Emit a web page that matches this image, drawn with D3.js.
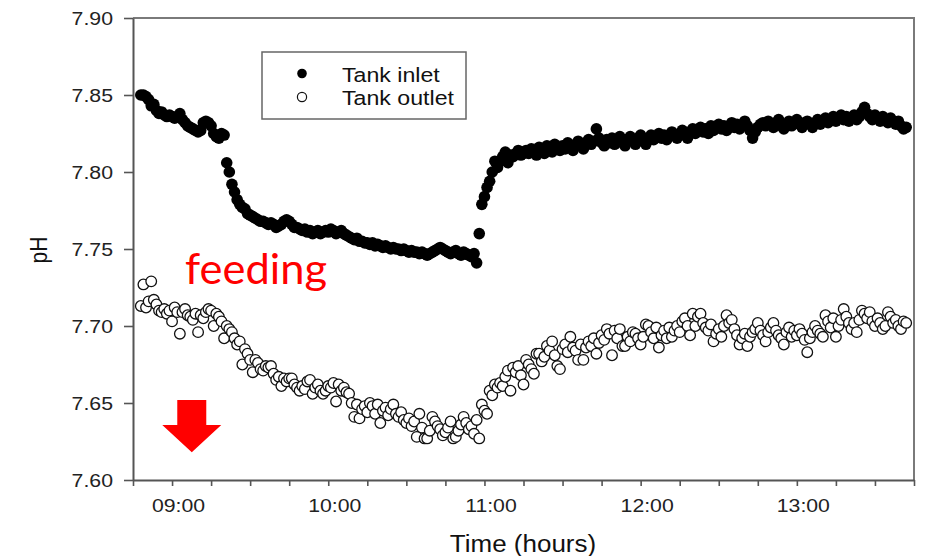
<!DOCTYPE html>
<html><head><meta charset="utf-8">
<script src="https://cdn.jsdelivr.net/npm/d3@7"></script>
<style>body{margin:0;background:#fff}svg{display:block}</style>
</head><body><svg id="c" width="928" height="556"></svg>
<script>
const startTime = "08:48";
const stepMinutes = 1;
const xDomain = ["08:45", "13:45"];
const yDomain = [7.60, 7.90];
const yTicks = [7.60, 7.65, 7.70, 7.75, 7.80, 7.85, 7.90];
const xTickLabels = ["09:00", "10:00", "11:00", "12:00", "13:00"];
const seriesNames = ["Tank inlet", "Tank outlet"];
const xTitle = "Time (hours)";
const yTitle = "pH";
const noteText = "feeding";
const notePos = ["09:05", 7.727];
const arrowPos = ["09:07", 7.652, 7.618];

const inlet = [
7.850,7.850,7.849,7.847,7.843,7.844,7.840,7.838,7.839,7.837,
7.836,7.837,7.836,7.835,7.836,7.838,7.834,7.832,7.830,7.829,
7.828,7.827,7.826,7.827,7.832,7.833,7.832,7.830,7.825,7.823,
7.822,7.825,7.824,7.806,7.800,7.792,7.787,7.782,7.779,7.777,
7.776,7.773,7.772,7.771,7.770,7.769,7.768,7.768,7.767,7.766,
7.767,7.766,7.764,7.765,7.766,7.768,7.769,7.768,7.766,7.764,
7.764,7.763,7.762,7.763,7.761,7.762,7.760,7.761,7.762,7.760,
7.761,7.762,7.761,7.763,7.762,7.760,7.761,7.762,7.760,7.759,
7.758,7.757,7.756,7.757,7.755,7.755,7.754,7.754,7.753,7.754,
7.752,7.753,7.752,7.751,7.752,7.751,7.750,7.751,7.750,7.750,
7.749,7.750,7.749,7.748,7.749,7.748,7.748,7.747,7.748,7.747,
7.746,7.747,7.748,7.749,7.750,7.751,7.750,7.749,7.748,7.747,
7.748,7.749,7.747,7.746,7.748,7.747,7.746,7.745,7.747,7.741,
7.760,7.779,7.784,7.790,7.794,7.800,7.807,7.803,7.807,7.810,
7.813,7.806,7.811,7.810,7.812,7.814,7.811,7.812,7.814,7.812,
7.815,7.813,7.811,7.816,7.814,7.812,7.817,7.815,7.813,7.818,
7.816,7.814,7.817,7.815,7.819,7.816,7.814,7.818,7.820,7.817,
7.815,7.819,7.821,7.818,7.820,7.828,7.822,7.819,7.817,7.821,
7.819,7.822,7.818,7.820,7.823,7.819,7.817,7.821,7.823,7.820,
7.818,7.822,7.824,7.820,7.818,7.822,7.824,7.821,7.823,7.825,
7.822,7.824,7.821,7.823,7.826,7.824,7.822,7.825,7.827,7.824,
7.822,7.826,7.828,7.825,7.827,7.829,7.826,7.828,7.825,7.830,
7.827,7.829,7.831,7.828,7.830,7.827,7.829,7.832,7.829,7.831,
7.828,7.830,7.833,7.830,7.827,7.822,7.826,7.829,7.831,7.832,
7.830,7.833,7.831,7.829,7.832,7.834,7.830,7.828,7.831,7.833,
7.830,7.832,7.834,7.831,7.829,7.832,7.833,7.831,7.829,7.832,
7.834,7.831,7.833,7.835,7.832,7.834,7.836,7.833,7.835,7.837,
7.834,7.836,7.833,7.835,7.837,7.834,7.836,7.839,7.842,7.838,
7.836,7.834,7.837,7.835,7.833,7.836,7.834,7.832,7.835,7.833,
7.831,7.833,7.830,7.828,7.829
];

const outlet = [
7.713,7.727,7.712,7.716,7.729,7.717,7.714,7.710,7.709,7.711,
7.708,7.710,7.703,7.712,7.709,7.695,7.709,7.711,7.707,7.706,
7.704,7.708,7.696,7.707,7.705,7.709,7.711,7.710,7.700,7.708,
7.706,7.703,7.692,7.700,7.698,7.696,7.692,7.688,7.690,7.675,
7.685,7.682,7.678,7.670,7.678,7.676,7.672,7.671,7.674,7.673,
7.674,7.669,7.665,7.667,7.661,7.666,7.664,7.666,7.666,7.662,
7.660,7.658,7.661,7.659,7.664,7.665,7.656,7.660,7.662,7.658,
7.656,7.658,7.661,7.660,7.663,7.651,7.662,7.658,7.660,7.657,
7.656,7.650,7.641,7.649,7.640,7.646,7.648,7.644,7.650,7.648,
7.643,7.649,7.637,7.645,7.647,7.642,7.646,7.649,7.643,7.641,
7.644,7.639,7.637,7.640,7.635,7.638,7.628,7.643,7.634,7.627,
7.627,7.632,7.641,7.638,7.635,7.633,7.629,7.631,7.634,7.638,
7.627,7.628,7.632,7.636,7.641,7.637,7.633,7.635,7.630,7.639,
7.627,7.649,7.645,7.643,7.658,7.655,7.662,7.660,7.663,7.661,
7.667,7.671,7.658,7.673,7.670,7.674,7.668,7.662,7.678,7.675,
7.672,7.669,7.682,7.682,7.677,7.680,7.687,7.684,7.690,7.681,
7.674,7.672,7.685,7.688,7.683,7.693,7.686,7.684,7.678,7.688,
7.678,7.686,7.690,7.687,7.692,7.682,7.689,7.694,7.691,7.698,
7.695,7.681,7.697,7.692,7.698,7.687,7.687,7.693,7.690,7.696,
7.695,7.692,7.688,7.693,7.701,7.700,7.696,7.692,7.699,7.686,
7.694,7.697,7.692,7.699,7.693,7.697,7.700,7.696,7.703,7.705,
7.700,7.694,7.708,7.700,7.706,7.708,7.702,7.699,7.697,7.701,
7.690,7.695,7.698,7.693,7.700,7.707,7.702,7.704,7.698,7.694,
7.688,7.692,7.695,7.687,7.693,7.696,7.698,7.702,7.697,7.694,
7.690,7.696,7.699,7.702,7.697,7.694,7.692,7.688,7.696,7.699,
7.693,7.697,7.694,7.698,7.695,7.691,7.683,7.692,7.696,7.700,
7.697,7.695,7.693,7.707,7.703,7.699,7.705,7.693,7.700,7.704,
7.711,7.706,7.702,7.698,7.702,7.696,7.704,7.710,7.708,7.705,
7.709,7.703,7.700,7.705,7.702,7.698,7.700,7.709,7.706,7.702,
7.704,7.700,7.698,7.703,7.702
];

const parse = d3.timeParse("%H:%M");
const fmt = d3.timeFormat("%H:%M");
const L = 133, R = 914, T = 18, B = 480;
const FONT = "'Liberation Sans', Arial, sans-serif";

const svg = d3.select("#c");
const x = d3.scaleTime().domain(xDomain.map(parse)).range([L, R]);
const y = d3.scaleLinear().domain(yDomain).range([B, T]);

const t0 = parse(startTime);
const timeAt = i => d3.timeMinute.offset(t0, i * stepMinutes);

// frame (top/right)
svg.append("path")
  .attr("d", `M${L},${T}H${R}V${B}`)
  .attr("fill", "none").attr("stroke", "#7a7a7a").attr("stroke-width", 2);

// outlet series (open circles)
svg.append("g").selectAll("circle").data(outlet).join("circle")
  .attr("cx", (d, i) => x(timeAt(i))).attr("cy", d => y(d)).attr("r", 5.3)
  .attr("fill", "#fff").attr("stroke", "#111").attr("stroke-width", 1.3);

// inlet series (filled)
svg.append("g").selectAll("circle").data(inlet).join("circle")
  .attr("cx", (d, i) => x(timeAt(i))).attr("cy", d => y(d)).attr("r", 5.8)
  .attr("fill", "#000");

// x axis
const xt = d3.timeMinute.every(15).range(parse(xDomain[0]), d3.timeMinute.offset(parse(xDomain[1]), 1));
const gx = svg.append("g").attr("transform", `translate(0,${B})`)
  .call(d3.axisBottom(x).tickValues(xt).tickSize(6).tickSizeOuter(0)
    .tickFormat(d => xTickLabels.includes(fmt(d)) ? fmt(d) : ""));
gx.select(".domain").attr("stroke", "#555").attr("stroke-width", 2);
gx.selectAll(".tick line").attr("stroke", "#555").attr("stroke-width", 1.6);
gx.selectAll(".tick text").attr("y", 32).attr("dy", null)
  .attr("transform", "translate(6,0) scale(1.18,1)")
  .attr("font-family", FONT).attr("font-size", 18).attr("fill", "#222");

// y axis
const gy = svg.append("g").attr("transform", `translate(${L},0)`)
  .call(d3.axisLeft(y).tickValues(yTicks).tickSize(9).tickSizeOuter(0).tickFormat(d3.format(".2f")));
gy.select(".domain").attr("stroke", "#555").attr("stroke-width", 2);
gy.selectAll(".tick line").attr("stroke", "#555").attr("stroke-width", 1.6);
gy.selectAll(".tick text").attr("x", 0).attr("dy", "0.36em")
  .attr("transform", "translate(-20,0) scale(1.15,1)")
  .attr("font-family", FONT).attr("font-size", 18.5).attr("fill", "#222");

// axis titles
svg.append("text").text(xTitle)
  .attr("transform", "translate(523,551.5) scale(1.13,1)")
  .attr("text-anchor", "middle").attr("font-family", FONT).attr("font-size", 23).attr("fill", "#111");
svg.append("text").text(yTitle)
  .attr("transform", "translate(46.5,250) rotate(-90) scale(1,1.15)")
  .attr("text-anchor", "middle").attr("font-family", FONT).attr("font-size", 21).attr("fill", "#111");

// legend
const lg = svg.append("g");
lg.append("rect").attr("x", 262).attr("y", 52).attr("width", 204).attr("height", 67)
  .attr("fill", "#fff").attr("stroke", "#666").attr("stroke-width", 1.5);
lg.append("circle").attr("cx", 302).attr("cy", 73.5).attr("r", 4.8).attr("fill", "#000");
lg.append("circle").attr("cx", 302).attr("cy", 97).attr("r", 4.6).attr("fill", "#fff")
  .attr("stroke", "#111").attr("stroke-width", 1.2);
seriesNames.forEach((s, i) => {
  lg.append("text").text(s)
    .attr("transform", `translate(342,${81.5 + i * 23}) scale(1.13,1)`)
    .attr("font-family", FONT).attr("font-size", 20.5).attr("fill", "#111");
});

// annotation
svg.append("text").text(noteText)
  .attr("x", x(parse(notePos[0]))).attr("y", y(notePos[1]))
  .attr("textLength", 142).attr("lengthAdjust", "spacingAndGlyphs")
  .attr("font-family", "Lato, 'Open Sans', sans-serif").attr("font-size", 42).attr("fill", "#ff0000");

const ax = x(parse(arrowPos[0])) + 1.5, ayTop = y(arrowPos[1]), ayTip = y(arrowPos[2]);
const headBase = ayTop + 25;
svg.append("path")
  .attr("d", `M${ax - 14.5},${ayTop}H${ax + 14.5}V${headBase}H${ax + 29.5}L${ax},${ayTip}L${ax - 29.5},${headBase}H${ax - 14.5}Z`)
  .attr("fill", "#ff0000");
</script>
</body></html>
